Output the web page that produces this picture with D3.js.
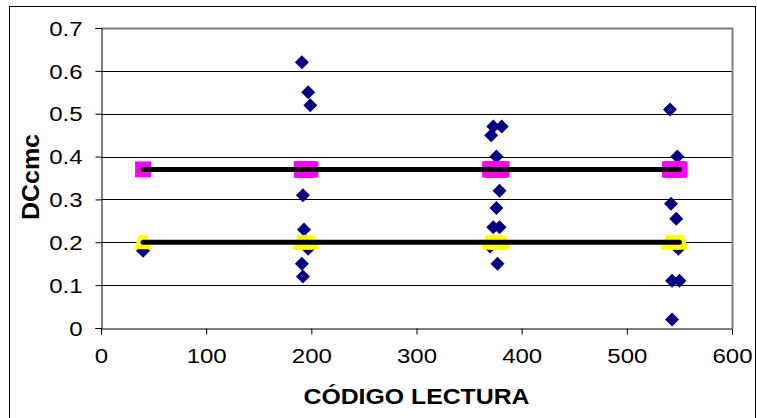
<!DOCTYPE html>
<html>
<head>
<meta charset="utf-8">
<script src="https://cdn.jsdelivr.net/npm/d3@7"></script>
<style>
  body { margin: 0; background: #fff; }
  svg { display: block; font-family: "Liberation Sans", Arial, sans-serif; }
</style>
</head>
<body>
<div id="chart"></div>
<script>
// diamonds: codigo de lectura vs DCcmc
var codigo = [40, 191, 197, 199, 192, 193, 197, 191, 192,
              373, 381, 371, 376, 379, 376, 373, 379, 370, 377,
              541, 548, 542, 547, 549, 543, 550, 543];
var dccmc  = [0.18, 0.62, 0.55, 0.52, 0.31, 0.23, 0.185, 0.15, 0.12,
              0.47, 0.47, 0.45, 0.40, 0.32, 0.28, 0.235, 0.235, 0.19, 0.15,
              0.51, 0.40, 0.29, 0.255, 0.185, 0.11, 0.11, 0.02];
var media = 0.37;   // pink squares + upper line
var minimo = 0.2;   // yellow triangles + lower line
var xTicks = [0, 100, 200, 300, 400, 500, 600];
var yTicks = [0, 0.1, 0.2, 0.3, 0.4, 0.5, 0.6, 0.7];

var W = 757, H = 418;
var pLeft = 101, pRight = 732, pTop = 28, pBottom = 328;

var svg = d3.select("#chart").append("svg")
    .attr("width", W).attr("height", H);

// outer chart frame
svg.append("rect")
    .attr("x", 9.5).attr("y", 6.5)
    .attr("width", 746).attr("height", 430)
    .attr("fill", "#fff").attr("stroke", "#000").attr("stroke-width", 1);

var x = d3.scaleLinear().domain([0, 600]).range([pLeft, pRight]);
var y = d3.scaleLinear().domain([0, 0.7]).range([pBottom, pTop]);

// grid
svg.append("g").selectAll("line")
    .data(yTicks.slice(1, -1))
    .join("line")
    .attr("x1", pLeft).attr("x2", pRight)
    .attr("y1", function (d) { return Math.round(y(d)) + 0.5; })
    .attr("y2", function (d) { return Math.round(y(d)) + 0.5; })
    .attr("stroke", "#000").attr("stroke-width", 1);

// plot frame top/right in grey
svg.append("path")
    .attr("d", "M" + pLeft + "," + (pTop + 0.5) + "H" + (pRight + 0.5) + "V" + pBottom)
    .attr("fill", "none").attr("stroke", "#808080").attr("stroke-width", 2);

// axes
var xAxis = svg.append("g")
    .attr("transform", "translate(0," + (pBottom + 0.5) + ")")
    .call(d3.axisBottom(x).tickValues(xTicks).tickSize(6).tickPadding(14).tickFormat(d3.format("d")));
var yAxis = svg.append("g")
    .attr("transform", "translate(" + (pLeft + 0.5) + ",0)")
    .call(d3.axisLeft(y).tickValues(yTicks).tickSize(6).tickPadding(13)
        .tickFormat(function (d) { return d === 0 ? "0" : d3.format(".1f")(d); }));

[xAxis, yAxis].forEach(function (a) {
    a.select(".domain").attr("stroke", "#000").attr("stroke-width", 1);
    a.selectAll(".tick line").attr("stroke", "#000");
    a.selectAll("text").attr("fill", "#000")
        .style("font-size", "20px").style("font-family", "'Liberation Sans', Arial, sans-serif")
        // the original chart is stretched a bit sideways
        .attr("textLength", function () { return this.getComputedTextLength() * 1.2; })
        .attr("lengthAdjust", "spacingAndGlyphs");
});
yAxis.selectAll("text").attr("dy", "0.36em");

// diamonds
svg.append("g").selectAll("path")
    .data(codigo)
    .join("path")
    .attr("transform", function (d, i) { return "translate(" + x(d) + "," + y(dccmc[i]) + ")"; })
    .attr("d", "M0,-7L7,0L0,7L-7,0Z")
    .attr("fill", "#000080");

// squares (media)
svg.append("g").selectAll("rect")
    .data(codigo)
    .join("rect")
    .attr("x", function (d) { return x(d) - 8; })
    .attr("y", y(media) - 8)
    .attr("width", 16).attr("height", 16)
    .attr("fill", "#ff00ff");

// triangles (minimo)
svg.append("g").selectAll("path")
    .data(codigo)
    .join("path")
    .attr("transform", function (d) { return "translate(" + x(d) + "," + y(minimo) + ")"; })
    .attr("d", "M-4,-7L4,-7L9,7L-9,7Z")
    .attr("fill", "#ffff00");

// black lines
var xr = d3.extent(codigo);
var line = d3.line()
    .x(function (d) { return x(d[0]); })
    .y(function (d) { return y(d[1]); });
svg.append("g").selectAll("path")
    .data([[[xr[0], media], [xr[1], media]], [[xr[0], minimo], [xr[1], minimo]]])
    .join("path")
    .attr("d", line)
    .attr("fill", "none").attr("stroke", "#000")
    .attr("stroke-width", 5).attr("stroke-linecap", "round");

// titles
svg.append("text")
    .attr("x", (pLeft + pRight) / 2).attr("y", 404)
    .attr("text-anchor", "middle")
    .attr("textLength", 226).attr("lengthAdjust", "spacingAndGlyphs")
    .style("font-size", "22px").style("font-weight", "bold")
    .text("CÓDIGO LECTURA");
svg.append("text")
    .attr("transform", "translate(39," + 177 + ") rotate(-90)")
    .attr("text-anchor", "middle")
    .attr("textLength", 86).attr("lengthAdjust", "spacingAndGlyphs")
    .style("font-size", "23px").style("font-weight", "bold")
    .text("DCcmc");
</script>
</body>
</html>
